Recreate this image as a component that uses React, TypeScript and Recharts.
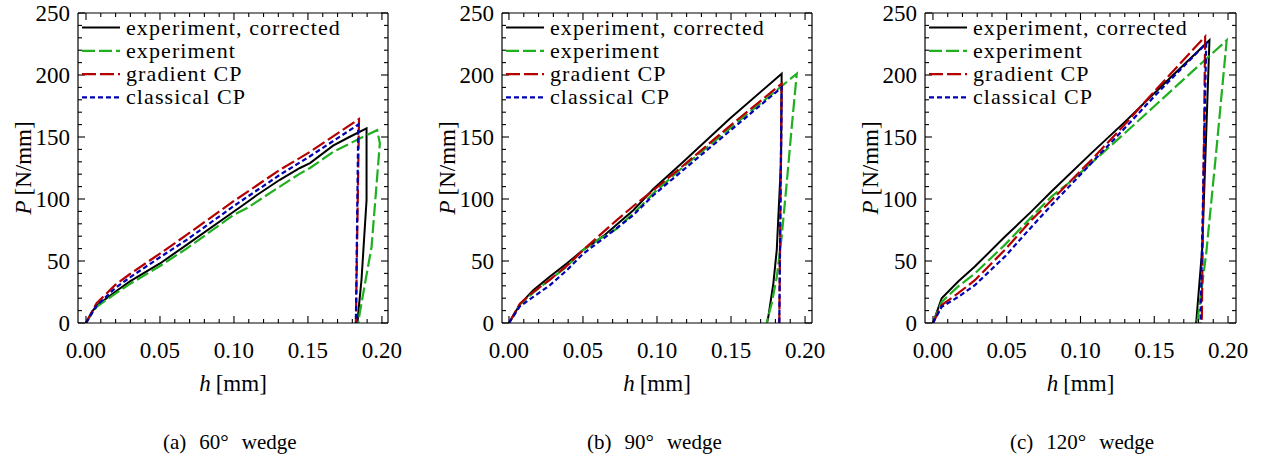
import React from 'react';
import { LineChart, Line, XAxis, YAxis, Legend } from 'recharts';

const FONT = 'Liberation Serif, DejaVu Serif, serif';

type Pt = [number, number];

// ---- tick definitions ----
const xTicks = Array.from({ length: 21 }, (_, i) => i / 100);
const yTicks = Array.from({ length: 26 }, (_, i) => i * 10);
const xMajorLabels = ['0.00', '0.05', '0.10', '0.15', '0.20'];

// ---- series meta ----
const seriesNames = ['experiment, corrected', 'experiment', 'gradient CP', 'classical CP'];
const seriesColors = ['#000000', '#1faf1f', '#b40000', '#0000b4'];
const seriesDashes: (string | undefined)[] = [undefined, '13 4', '14 4', '5 3'];

// ---- (a) 60° wedge : [h (mm), P (N/mm)] ----
const w60Corrected: Pt[] = [[0, 0], [0.004, 9], [0.0072, 14], [0.0196, 25], [0.0297, 33.5], [0.05, 48], [0.068, 63], [0.0995, 89.5], [0.106, 95], [0.1153, 103], [0.131, 115.5], [0.1446, 125], [0.1514, 129], [0.167, 143], [0.178, 150], [0.1896, 157], [0.1896, 99], [0.1862, 35], [0.184, 8], [0.1835, 0]];
const w60Experiment: Pt[] = [[0, 0], [0.004, 8], [0.0072, 13], [0.0196, 23.5], [0.0297, 31.5], [0.05, 46], [0.068, 60], [0.0995, 87], [0.1086, 92.5], [0.131, 110], [0.1446, 120.5], [0.1514, 125], [0.167, 138], [0.1896, 151.5], [0.1968, 155.5], [0.1986, 145], [0.193, 61.5], [0.185, 8], [0.184, 0]];
const w60Gradient: Pt[] = [[0, 0], [0.0072, 16], [0.0196, 30.5], [0.0297, 39.5], [0.05, 56], [0.068, 71], [0.0995, 98], [0.131, 123.5], [0.1514, 138], [0.1845, 164.5], [0.1824, 0]];
const w60Classical: Pt[] = [[0, 0], [0.0072, 14], [0.0196, 28], [0.03, 37], [0.05, 53], [0.068, 67], [0.0995, 94], [0.131, 119.5], [0.1514, 134.5], [0.184, 160], [0.1824, 0]];

// ---- (b) 90° wedge ----
const w90Corrected: Pt[] = [[0, 0], [0.0074, 15], [0.0164, 26.5], [0.0277, 37.5], [0.039, 48], [0.0502, 59], [0.0637, 70], [0.084, 91], [0.0975, 108], [0.1178, 130], [0.1493, 165], [0.1842, 201], [0.1838, 131], [0.1809, 59], [0.1786, 32], [0.1752, 5], [0.1743, 0]];
const w90Experiment: Pt[] = [[0, 0], [0.0074, 15], [0.0164, 24.5], [0.0277, 35], [0.039, 45.5], [0.0502, 59], [0.0615, 68], [0.0728, 76], [0.0863, 91], [0.0975, 104.5], [0.1178, 126], [0.1493, 157], [0.1842, 191], [0.1944, 201], [0.191, 158], [0.1876, 112.5], [0.1842, 69.5], [0.1809, 37], [0.1775, 16], [0.1741, 0]];
const w90Gradient: Pt[] = [[0, 0], [0.0074, 15.5], [0.0164, 25], [0.0277, 35], [0.039, 46], [0.0502, 59], [0.0728, 83], [0.0863, 96.5], [0.0975, 107], [0.1178, 127], [0.1493, 159], [0.1842, 193], [0.1826, 0]];
const w90Classical: Pt[] = [[0, 0], [0.0074, 13.5], [0.0164, 21], [0.0277, 30.5], [0.039, 42.5], [0.0502, 56], [0.0637, 68], [0.084, 87], [0.0975, 103], [0.1178, 123.5], [0.1493, 155], [0.1842, 190], [0.1826, 0]];

// ---- (c) 120° wedge ----
const w120Corrected: Pt[] = [[0, 0], [0.0059, 20], [0.0171, 33.5], [0.0284, 45.5], [0.0487, 69.5], [0.0668, 90], [0.0803, 106], [0.1074, 137], [0.1299, 162], [0.1502, 185.5], [0.1658, 203.5], [0.1874, 228], [0.1825, 60], [0.1784, 0]];
const w120Experiment: Pt[] = [[0, 0], [0.0059, 17], [0.0171, 29.5], [0.0284, 40], [0.0487, 63], [0.0668, 85.5], [0.0803, 102], [0.0916, 112.5], [0.1074, 129], [0.1299, 153], [0.1502, 175], [0.1658, 192], [0.1991, 228], [0.1919, 137], [0.1852, 56], [0.1791, 0]];
const w120Gradient: Pt[] = [[0, 0], [0.0059, 14.5], [0.0171, 24], [0.0284, 34.5], [0.0487, 59], [0.0668, 83], [0.0803, 99], [0.1074, 131.5], [0.1299, 160], [0.1502, 187], [0.1658, 207], [0.1845, 231], [0.1822, 0]];
const w120Classical: Pt[] = [[0, 0], [0.0059, 13], [0.0171, 21], [0.0284, 30.5], [0.0487, 53.5], [0.0668, 77.5], [0.0803, 95], [0.1074, 129], [0.1299, 157], [0.1502, 183], [0.1658, 202], [0.1852, 225.5], [0.1813, 0]];

const captionLetters = ['(a)', '(b)', '(c)'];
const captionAngles = ['60°', '90°', '120°'];

const toRows = (pts: Pt[]) => pts.map(([h, P]) => ({ h, P }));

const TICK_STROKE = 1.1;
const textStyle = { fontFamily: FONT };

const renderBottomTick = (p: any) => {
  const v = p.payload.value as number;
  const k = Math.round(v * 100);
  const major = k % 5 === 0;
  return (
    <g>
      <line x1={p.x} x2={p.x} y1={p.y} y2={p.y - (major ? 7 : 4)} stroke="#000" strokeWidth={TICK_STROKE} />
      {major ? (
        <text x={p.x} y={p.y + 35} textAnchor="middle" style={textStyle} fontSize={23} fill="#000">
          {xMajorLabels[k / 5]}
        </text>
      ) : null}
    </g>
  );
};

const renderTopTick = (p: any) => {
  const v = p.payload.value as number;
  const major = Math.round(v * 100) % 5 === 0;
  return <line x1={p.x} x2={p.x} y1={p.y} y2={p.y + (major ? 7 : 4)} stroke="#000" strokeWidth={TICK_STROKE} />;
};

const renderLeftTick = (p: any) => {
  const v = p.payload.value as number;
  const major = v % 50 === 0;
  return (
    <g>
      <line x1={p.x} x2={p.x + (major ? 7 : 4)} y1={p.y} y2={p.y} stroke="#000" strokeWidth={TICK_STROKE} />
      {major ? (
        <text x={p.x - 8} y={p.y + 8} textAnchor="end" style={textStyle} fontSize={23} fill="#000">
          {String(v)}
        </text>
      ) : null}
    </g>
  );
};

const renderRightTick = (p: any) => {
  const v = p.payload.value as number;
  const major = v % 50 === 0;
  return <line x1={p.x} x2={p.x - (major ? 7 : 4)} y1={p.y} y2={p.y} stroke="#000" strokeWidth={TICK_STROKE} />;
};

const LegendBox = () => (
  <svg width={300} height={100} style={{ display: 'block', overflow: 'visible' }}>
    {seriesNames.map((name, i) => {
      const y = 14.5 + i * 23.3;
      return (
        <g key={name}>
          <line x1={0} x2={38} y1={y} y2={y} stroke={seriesColors[i]} strokeWidth={2.2} strokeDasharray={seriesDashes[i]} />
          <text x={44} y={y + 7} style={textStyle} fontSize={22} letterSpacing={1.1} fill="#000">
            {name}
          </text>
        </g>
      );
    })}
  </svg>
);

type PanelCfg = {
  left: number;
  plotLeft: number;
  plotRight: number;
  domain: [number, number];
  series: Pt[][];
  idx: number;
};

const W = 422;
const H = 461;
const PLOT_TOP = 13;
const PLOT_BOTTOM = 323;

function Panel({ cfg }: { cfg: PanelCfg }) {
  const { left, plotLeft, plotRight, domain, series, idx } = cfg;
  const yAxisW = 50;
  const rightAxisW = 10;
  const topAxisH = 5;
  const bottomAxisH = 30;
  const mL = plotLeft - left - yAxisW;
  const mR = left + W - plotRight - rightAxisW;
  const relPL = plotLeft - left;
  const relPR = plotRight - left;
  const axisLine = { stroke: '#000', strokeWidth: 1.2 };

  const bottomLabel = () => (
    <g>
      <text x={(relPL + relPR) / 2} y={391} textAnchor="middle" style={textStyle} fontSize={23} fill="#000">
        <tspan fontStyle="italic">h</tspan>
        <tspan dx={5}>[mm]</tspan>
      </text>
      <text x={relPL + 85} y={449} style={textStyle} fontSize={21} fill="#000">
        <tspan>{captionLetters[idx]}</tspan>
        <tspan dx={13}>{captionAngles[idx]}</tspan>
        <tspan dx={13}>wedge</tspan>
      </text>
    </g>
  );

  const leftLabel = () => {
    const x = relPL - 47;
    const y = (PLOT_TOP + PLOT_BOTTOM) / 2;
    return (
      <text x={x} y={y} transform={`rotate(-90, ${x}, ${y})`} textAnchor="middle" style={textStyle} fontSize={23} fill="#000">
        <tspan fontStyle="italic">P</tspan>
        <tspan dx={5}>[N/mm]</tspan>
      </text>
    );
  };

  return (
    <div style={{ position: 'absolute', left, top: 0, width: W, height: H }}>
      <LineChart
        width={W}
        height={H}
        margin={{ top: PLOT_TOP - topAxisH, right: mR, bottom: H - PLOT_BOTTOM - bottomAxisH, left: mL }}
      >
        <XAxis
          xAxisId="b"
          orientation="bottom"
          type="number"
          dataKey="h"
          domain={domain}
          allowDataOverflow
          ticks={xTicks}
          interval={0}
          tickSize={0}
          tickMargin={0}
          tickLine={false}
          axisLine={axisLine}
          height={bottomAxisH}
          tick={renderBottomTick}
          label={bottomLabel}
        />
        <XAxis
          xAxisId="t"
          orientation="top"
          type="number"
          dataKey="h"
          domain={domain}
          allowDataOverflow
          ticks={xTicks}
          interval={0}
          tickSize={0}
          tickMargin={0}
          tickLine={false}
          axisLine={axisLine}
          height={topAxisH}
          tick={renderTopTick}
        />
        <YAxis
          yAxisId="l"
          orientation="left"
          type="number"
          domain={[0, 250]}
          allowDataOverflow
          ticks={yTicks}
          interval={0}
          tickSize={0}
          tickMargin={0}
          tickLine={false}
          axisLine={axisLine}
          width={yAxisW}
          tick={renderLeftTick}
          label={leftLabel}
        />
        <YAxis
          yAxisId="r"
          orientation="right"
          type="number"
          domain={[0, 250]}
          allowDataOverflow
          ticks={yTicks}
          interval={0}
          tickSize={0}
          tickMargin={0}
          tickLine={false}
          axisLine={axisLine}
          width={rightAxisW}
          tick={renderRightTick}
        />
        {series.map((pts, i) => (
          <Line
            key={seriesNames[i]}
            xAxisId="b"
            yAxisId="l"
            data={toRows(pts)}
            dataKey="P"
            name={seriesNames[i]}
            type="linear"
            stroke={seriesColors[i]}
            strokeWidth={i === 0 ? 2 : 2.2}
            strokeDasharray={seriesDashes[i]}
            dot={false}
            activeDot={false}
            isAnimationActive={false}
          />
        ))}
        <Legend
          layout="vertical"
          align="center"
          verticalAlign="middle"
          content={() => <LegendBox />}
          wrapperStyle={{ left: relPL + 4, top: PLOT_TOP, width: 300, height: 100 }}
        />
      </LineChart>
    </div>
  );
}

const panels: PanelCfg[] = [
  { left: 0, plotLeft: 78, plotRight: 388, domain: [-0.0054, 0.2041], series: [w60Corrected, w60Experiment, w60Gradient, w60Classical], idx: 0 },
  { left: 422, plotLeft: 502, plotRight: 812, domain: [-0.0047, 0.2047], series: [w90Corrected, w90Experiment, w90Gradient, w90Classical], idx: 1 },
  { left: 844, plotLeft: 925, plotRight: 1236, domain: [-0.0054, 0.2054], series: [w120Corrected, w120Experiment, w120Gradient, w120Classical], idx: 2 },
];

export default function App() {
  return (
    <div style={{ position: 'absolute', left: 0, top: 0, width: 1266, height: 461, background: '#fff' }}>
      {panels.map((cfg) => (
        <Panel key={cfg.idx} cfg={cfg} />
      ))}
    </div>
  );
}
